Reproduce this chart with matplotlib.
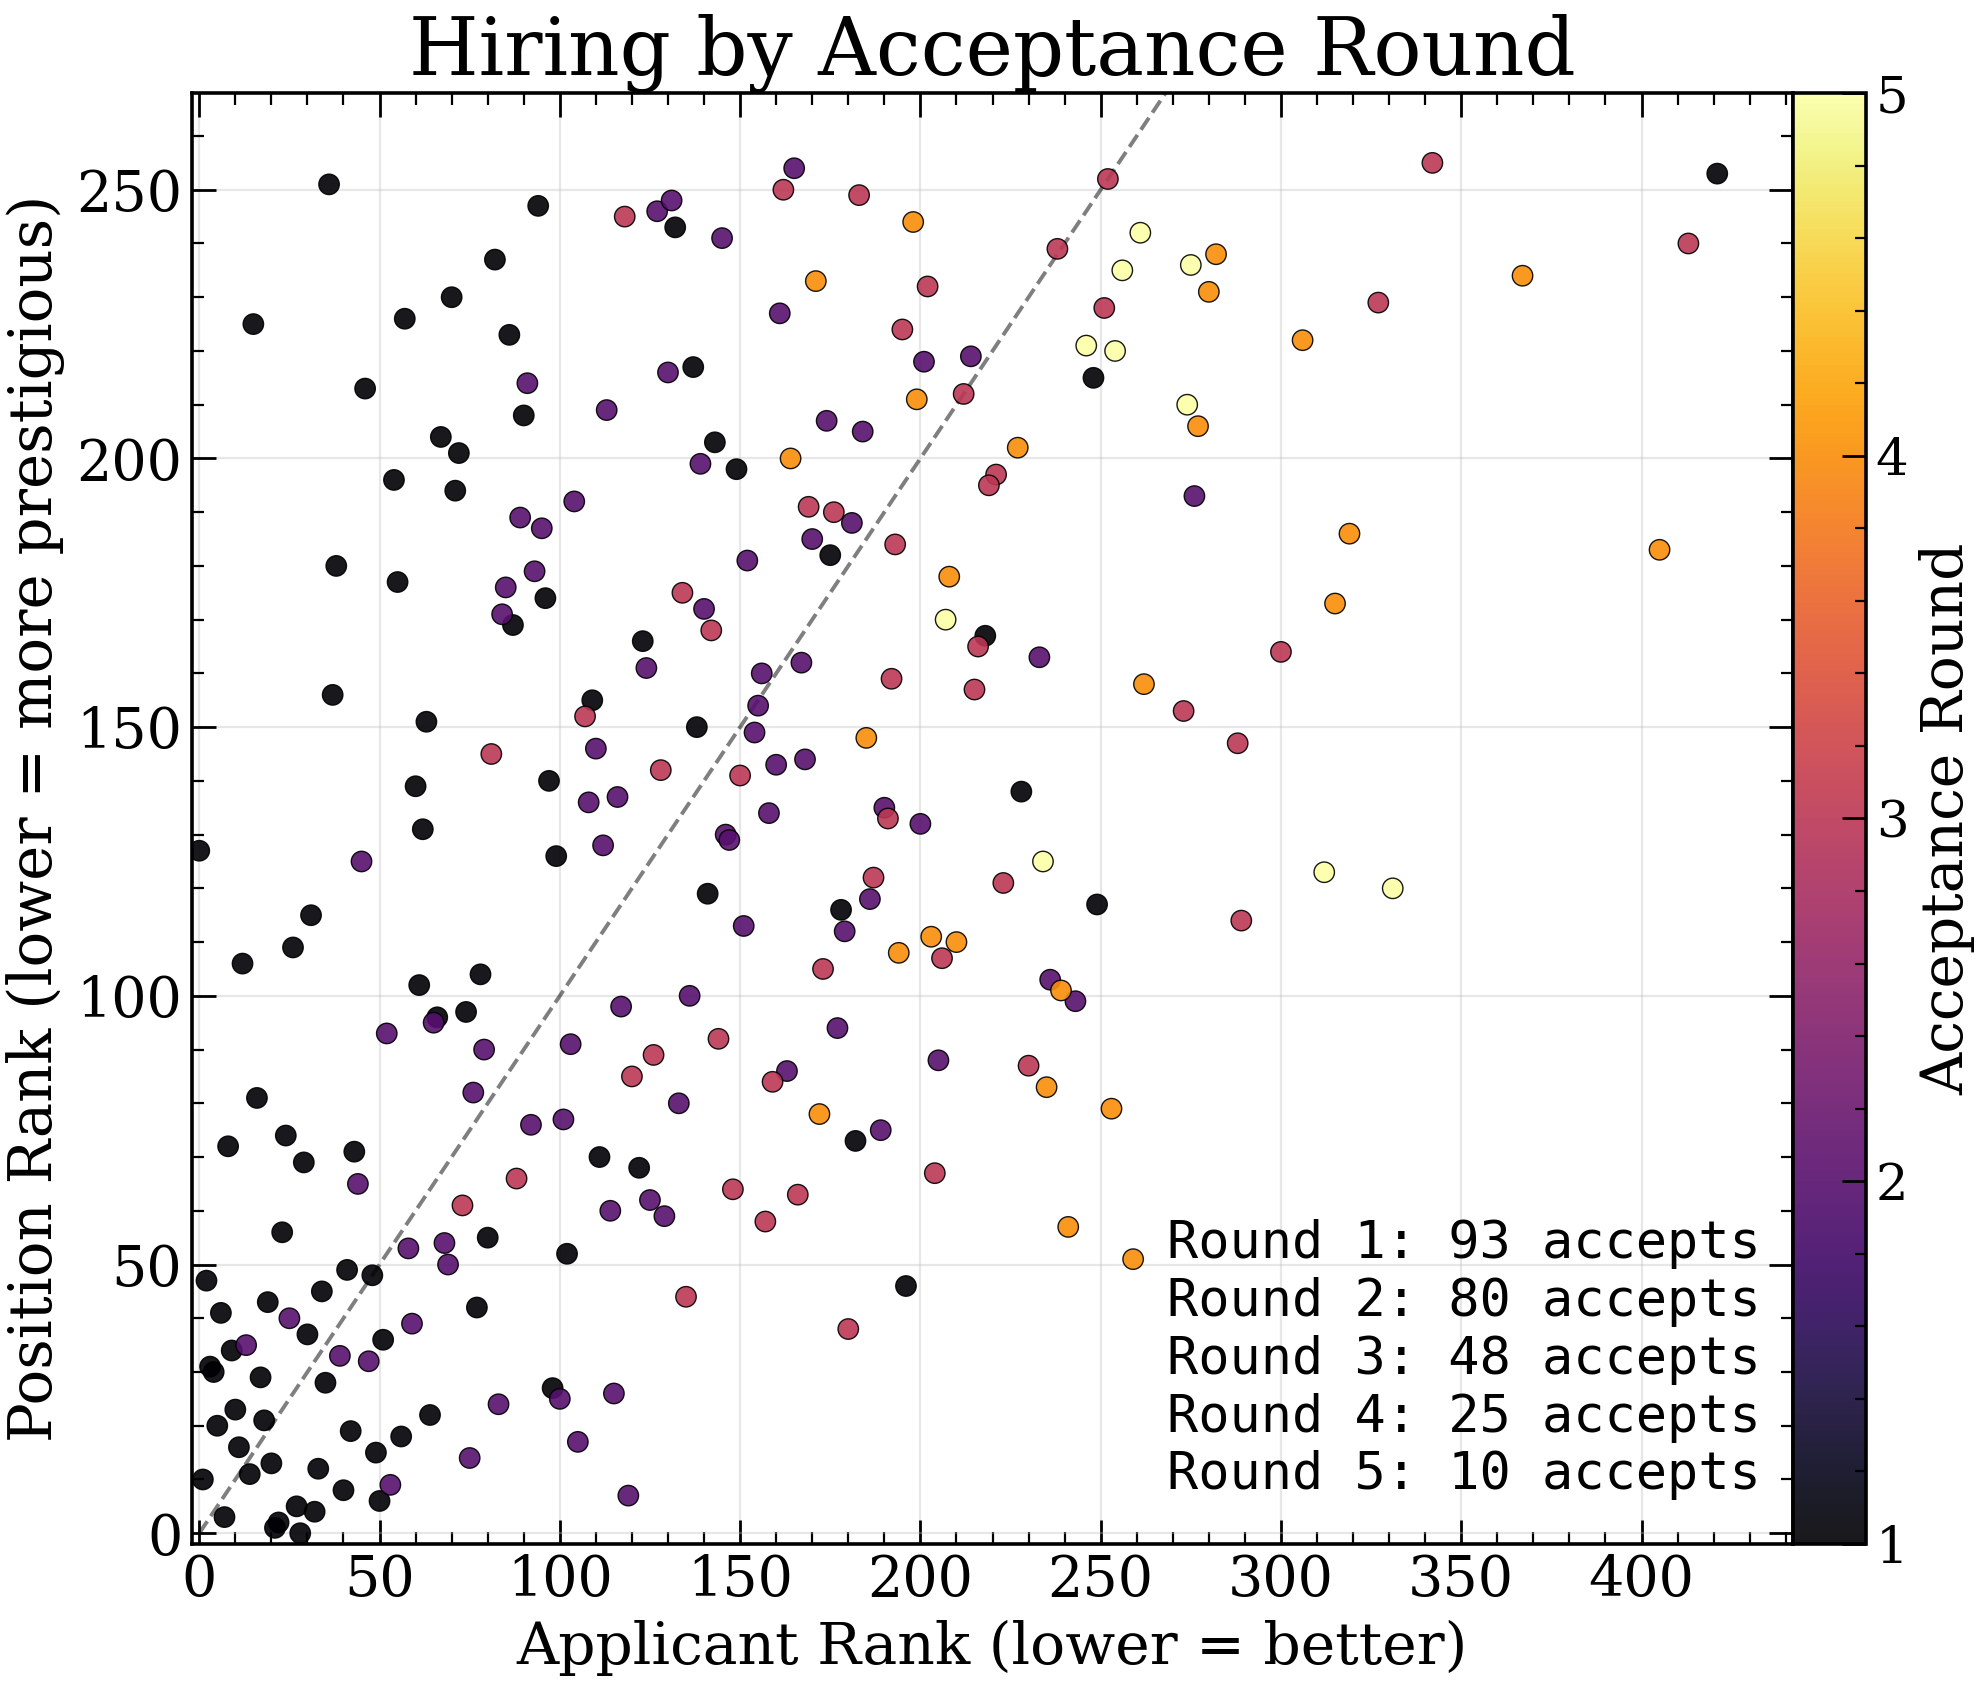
import numpy as np
import matplotlib.pyplot as plt
from matplotlib.ticker import MultipleLocator

# applicant rank (x) and position rank (y) for each acceptance round
round1_applicant = [36, 94, 132, 82, 70, 15, 57, 86, 46, 137, 90, 67, 72, 143, 149, 54, 71, 38, 55,
                    248, 175, 421,
                    96, 87, 123, 37, 109, 63, 138, 60, 97, 62, 0, 99, 141, 31, 26, 12, 78, 61, 66, 74,
                    218, 228, 178, 249,
                    16, 8, 24, 29, 43, 111, 122, 23, 80, 102, 41, 48, 2, 19, 34, 6, 77, 30, 51, 9,
                    3, 4, 17, 35, 98, 10, 5, 18, 64, 42, 56, 11, 49, 20, 14, 33, 1, 40, 50, 27,
                    32, 7, 22, 21, 28,
                    182, 196]
round1_position = [251, 247, 243, 237, 230, 225, 226, 223, 213, 217, 208, 204, 201, 203, 198, 196, 194, 180, 177,
                   215, 182, 253,
                   174, 169, 166, 156, 155, 151, 150, 139, 140, 131, 127, 126, 119, 115, 109, 106, 104, 102, 96, 97,
                   167, 138, 116, 117,
                   81, 72, 74, 69, 71, 70, 68, 56, 55, 52, 49, 48, 47, 43, 45, 41, 42, 37, 36, 34,
                   31, 30, 29, 28, 27, 23, 20, 21, 22, 19, 18, 16, 15, 13, 11, 12, 10, 8, 6, 5,
                   4, 3, 2, 1, 0,
                   73, 46]

round2_applicant = [127, 131, 145, 91, 130, 113, 139, 104, 89, 95, 93, 85, 152,
                    165, 161, 201, 214, 174, 184, 276, 181, 170,
                    84, 140, 124, 110, 108, 116, 146, 147, 112, 45, 151, 136, 117, 65, 52, 79, 103,
                    233, 156, 167, 155, 154, 160, 168, 158, 190, 200, 186, 179, 236, 243, 177, 205, 163,
                    76, 133, 92, 101, 44, 125, 114, 129, 58, 68, 69, 25, 59, 13, 39, 47, 100, 115, 83,
                    105, 75, 53, 119,
                    189]
round2_position = [246, 248, 241, 214, 216, 209, 199, 192, 189, 187, 179, 176, 181,
                   254, 227, 218, 219, 207, 205, 193, 188, 185,
                   171, 172, 161, 146, 136, 137, 130, 129, 128, 125, 113, 100, 98, 95, 93, 90, 91,
                   163, 160, 162, 154, 149, 143, 144, 134, 135, 132, 118, 112, 103, 99, 94, 88, 86,
                   82, 80, 76, 77, 65, 62, 60, 59, 53, 54, 50, 40, 39, 35, 33, 32, 25, 26, 24,
                   17, 14, 9, 7,
                   75]

round3_applicant = [118, 162, 183, 252, 238, 202, 251, 195, 212, 221, 219, 169, 176, 193,
                    342, 413, 327,
                    134, 142, 107, 81, 128, 150, 144, 126, 120,
                    216, 192, 215, 273, 288, 191, 187, 223, 289, 206, 173, 230, 159,
                    300, 88, 148, 73, 135,
                    204, 166, 157, 180]
round3_position = [245, 250, 249, 252, 239, 232, 228, 224, 212, 197, 195, 191, 190, 184,
                   255, 240, 229,
                   175, 168, 152, 145, 142, 141, 92, 89, 85,
                   165, 159, 157, 153, 147, 133, 122, 121, 114, 107, 105, 87, 84,
                   164, 66, 64, 61, 44,
                   67, 63, 58, 38]

round4_applicant = [198, 282, 171, 280, 199, 277, 164, 227, 208,
                    367, 306, 319, 405,
                    262, 185, 203, 210, 194, 239, 315,
                    235, 253, 172, 241, 259]
round4_position = [244, 238, 233, 231, 211, 206, 200, 202, 178,
                   234, 222, 186, 183,
                   158, 148, 111, 110, 108, 101, 173,
                   83, 79, 78, 57, 51]

round5_applicant = [261, 275, 256, 246, 254, 274, 207, 234, 312, 331]
round5_position = [242, 236, 235, 221, 220, 210, 170, 125, 123, 120]

rounds = [1, 2, 3, 4, 5]
applicant_by_round = [round1_applicant, round2_applicant, round3_applicant, round4_applicant, round5_applicant]
position_by_round = [round1_position, round2_position, round3_position, round4_position, round5_position]

x = np.concatenate(applicant_by_round)
y = np.concatenate(position_by_round)
c = np.concatenate([[r] * len(a) for r, a in zip(rounds, applicant_by_round)])

plt.rcParams['font.family'] = 'DejaVu Serif'
plt.rcParams['axes.linewidth'] = 1.3

fig = plt.figure(figsize=(9.93, 8.425), dpi=200)
ax = fig.add_axes([0.0967, 0.0837, 0.8061, 0.8611])
cax = fig.add_axes([0.9028, 0.0837, 0.0368, 0.8611])

sc = ax.scatter(x, y, c=c, cmap='inferno', vmin=1, vmax=5, s=54, alpha=0.9,
                edgecolors='black', linewidths=0.5, zorder=3)

# diagonal: applicant rank == position rank
ax.plot([0, 300], [0, 300], '--', color='black', alpha=0.5, linewidth=1.4, zorder=2)

ax.set_xlim(-2, 442)
ax.set_ylim(-2, 268)
ax.xaxis.set_major_locator(MultipleLocator(50))
ax.xaxis.set_minor_locator(MultipleLocator(10))
ax.yaxis.set_major_locator(MultipleLocator(50))
ax.yaxis.set_minor_locator(MultipleLocator(10))
ax.tick_params(which='both', direction='in', top=True, right=True, labelsize=20)
ax.tick_params(which='major', length=8.6, width=1.0)
ax.tick_params(which='minor', length=4.4, width=0.8)
ax.grid(True, color='#bbbbbb', alpha=0.35, linewidth=0.8)

ax.set_xlabel('Applicant Rank (lower = better)', fontsize=21)
ax.set_ylabel('Position Rank (lower = more prestigious)', fontsize=21.4)
ax.set_title('Hiring by Acceptance Round', fontsize=28.8)

summary = '\n'.join(f'Round {r}: {len(a)} accepts' for r, a in zip(rounds, applicant_by_round))
ax.text(0.98, 0.03, summary, transform=ax.transAxes, ha='right', va='bottom',
        family='DejaVu Sans Mono', fontsize=18.7, zorder=4)

cbar = fig.colorbar(sc, cax=cax)
cbar.set_ticks(rounds)
cbar.ax.yaxis.set_minor_locator(MultipleLocator(0.2))
cbar.ax.tick_params(which='both', direction='in', labelsize=18.5)
cbar.ax.tick_params(which='major', length=8.6, width=1.0)
cbar.ax.tick_params(which='minor', length=4.0, width=0.8)
cbar.outline.set_linewidth(1.3)
cbar.set_label('Acceptance Round', fontsize=21)

fig.savefig('out.png', dpi=200)
